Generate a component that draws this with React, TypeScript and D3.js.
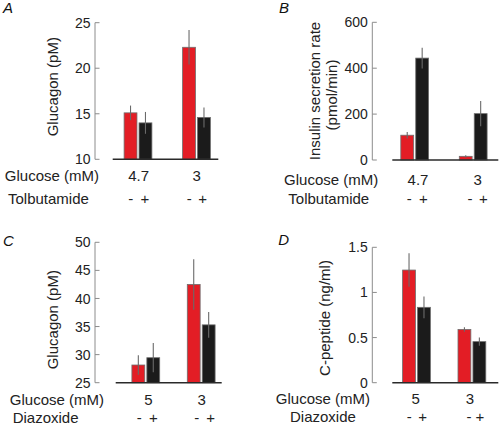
import React from "react";
import * as d3 from "d3";

// ---------- data ----------
const glucoseAB = ["4.7", "3"];
const glucoseCD = ["5", "3"];
const treatSigns = ["-", "+"];

const glucagonA_ctrl = [15.1, 22.3];
const glucagonA_ctrlErr = [0.8, 1.9];
const glucagonA_tolb = [14.0, 14.6];
const glucagonA_tolbErr = [1.2, 1.1];

const insulinB_ctrl = [108, 16];
const insulinB_ctrlErr = [14, 5];
const insulinB_tolb = [444, 202];
const insulinB_tolbErr = [45, 55];

const glucagonC_ctrl = [28.15, 42.5];
const glucagonC_ctrlErr = [1.75, 4.5];
const glucagonC_diaz = [29.45, 35.3];
const glucagonC_diazErr = [2.6, 2.3];

const cpepD_ctrl = [1.248, 0.59];
const cpepD_ctrlErr = [0.185, 0.025];
const cpepD_diaz = [0.835, 0.455];
const cpepD_diazErr = [0.12, 0.045];

const ticksA = [10, 15, 20, 25];
const ticksB = [0, 200, 400, 600];
const ticksC = [25, 30, 35, 40, 45, 50];
const ticksD = [0, 0.5, 1, 1.5];
const tickLabelsD = ["0", "0.5", "1", "1.5"];

// ---------- styles ----------
const FONT = "'Liberation Sans', Arial, Helvetica, sans-serif";
const RED = "#e31d25";
const BLACK = "#1b1b1b";
const OUTLINE = "#6e6e6e";
const AXIS = "#8c8c8c";
const ERR = "#6a6a6a";

type Panel = {
  letter: string;
  letterX: number;
  letterY: number;
  axisX: number;
  yRange: [number, number]; // [bottom px, top px]
  domain: [number, number];
  ticks: number[];
  tickLabels?: string[];
  baseX: [number, number];
  centers: [number, number];
  groups: string[];
  ctrl: number[];
  ctrlErr: number[];
  trt: number[];
  trtErr: number[];
  yLabel: string[];
  yLabelX: number[];
  yLabelY: number[];
  glucoseLabelEnd: number;
  glucoseY: number;
  groupLabelDx: number[];
  treatName: string;
  treatX: number;
  treatY: number;
  signDx: number[][];
};

const panels: Panel[] = [
  {
    letter: "A", letterX: 3, letterY: 13,
    axisX: 95, yRange: [159.3, 22.7], domain: [10, 25], ticks: ticksA,
    baseX: [112.7, 218.3], centers: [138, 196.5], groups: glucoseAB,
    ctrl: glucagonA_ctrl, ctrlErr: glucagonA_ctrlErr, trt: glucagonA_tolb, trtErr: glucagonA_tolbErr,
    yLabel: ["Glucagon (pM)"], yLabelX: [52.3], yLabelY: [86.7],
    glucoseLabelEnd: 99, glucoseY: 181, groupLabelDx: [0.7, 0.2],
    treatName: "Tolbutamide", treatX: 8, treatY: 204,
    signDx: [[-7.3, 7], [-7.2, 6.2]],
  },
  {
    letter: "B", letterX: 279, letterY: 13,
    axisX: 372.3, yRange: [160, 22.3], domain: [0, 600], ticks: ticksB,
    baseX: [392.3, 498.3], centers: [414.7, 473.2], groups: glucoseAB,
    ctrl: insulinB_ctrl, ctrlErr: insulinB_ctrlErr, trt: insulinB_tolb, trtErr: insulinB_tolbErr,
    yLabel: ["Insulin secretion rate", "(pmol/min)"], yLabelX: [315, 331.7], yLabelY: [91, 95],
    glucoseLabelEnd: 378.3, glucoseY: 184.5, groupLabelDx: [3.3, 4.5],
    treatName: "Tolbutamide", treatX: 288.3, treatY: 204,
    signDx: [[-5.4, 8.6], [-3.2, 10.1]],
  },
  {
    letter: "C", letterX: 3, letterY: 246,
    axisX: 95, yRange: [382.7, 242.3], domain: [25, 50], ticks: ticksC,
    baseX: [115.7, 221.7], centers: [145.8, 201.2], groups: glucoseCD,
    ctrl: glucagonC_ctrl, ctrlErr: glucagonC_ctrlErr, trt: glucagonC_diaz, trtErr: glucagonC_diazErr,
    yLabel: ["Glucagon (pM)"], yLabelX: [52.3], yLabelY: [319.7],
    glucoseLabelEnd: 104, glucoseY: 405, groupLabelDx: [2.5, 0.5],
    treatName: "Diazoxide", treatX: 12.7, treatY: 423,
    signDx: [[-6.5, 7.5], [-4.5, 9.5]],
  },
  {
    letter: "D", letterX: 278.3, letterY: 245,
    axisX: 372.3, yRange: [382.7, 247.3], domain: [0, 1.5], ticks: ticksD, tickLabels: tickLabelsD,
    baseX: [392.3, 498.3], centers: [416.5, 471.9], groups: glucoseCD,
    ctrl: cpepD_ctrl, ctrlErr: cpepD_ctrlErr, trt: cpepD_diaz, trtErr: cpepD_diazErr,
    yLabel: ["C-peptide (ng/ml)"], yLabelX: [325], yLabelY: [318],
    glucoseLabelEnd: 370, glucoseY: 404, groupLabelDx: [-0.8, -1.9],
    treatName: "Diazoxide", treatX: 290, treatY: 421.5,
    signDx: [[-7.2, 6.2], [-2.9, 8.1]],
  },
];

function PanelView({ p }: { p: Panel }) {
  const y = d3.scaleLinear().domain(p.domain).range(p.yRange);
  const x = d3.scaleOrdinal<string, number>().domain(p.groups).range(p.centers);
  const sub = d3.scaleBand().domain(["ctrl", "trt"]).range([-13.9, 13.9]).paddingInner(0.14);
  const series = [
    { key: "ctrl", vals: p.ctrl, errs: p.ctrlErr, fill: RED },
    { key: "trt", vals: p.trt, errs: p.trtErr, fill: BLACK },
  ];
  const base = y(p.domain[0]);
  return (
    <g>
      <text x={p.letterX} y={p.letterY} fontSize={15} fontStyle="italic" fontFamily={FONT} fill="#111">
        {p.letter}
      </text>
      {/* y axis */}
      <line x1={p.axisX} x2={p.axisX} y1={y(p.domain[1])} y2={base} stroke={AXIS} strokeWidth={1} />
      {p.ticks.map((t, i) => (
        <g key={i}>
          <line x1={p.axisX} x2={p.axisX + 4.5} y1={y(t)} y2={y(t)} stroke={AXIS} strokeWidth={1} />
          <text x={p.axisX - 4.5} y={y(t)} dy="0.36em" textAnchor="end" fontSize={14} fontFamily={FONT} fill="#222">
            {p.tickLabels ? p.tickLabels[i] : String(t)}
          </text>
        </g>
      ))}
      {p.yLabel.map((s, i) => (
        <text
          key={i}
          transform={`translate(${p.yLabelX[i]},${p.yLabelY[i]}) rotate(-90)`}
          dy="0.35em"
          textAnchor="middle"
          fontSize={15}
          fontFamily={FONT}
          fill="#222"
        >
          {s}
        </text>
      ))}
      {/* bars */}
      {p.groups.map((g, gi) =>
        series.map((s) => {
          const bx = x(g) + (sub(s.key) as number);
          const bw = sub.bandwidth();
          const top = y(s.vals[gi]);
          return (
            <g key={g + s.key}>
              <rect x={bx} y={top} width={bw} height={base - top} fill={s.fill} stroke={OUTLINE} strokeWidth={0.8} />
              <line
                x1={bx + bw / 2}
                x2={bx + bw / 2}
                y1={y(s.vals[gi] + s.errs[gi])}
                y2={Math.min(base, y(s.vals[gi] - s.errs[gi]))}
                stroke={ERR}
                strokeWidth={1.1}
              />
            </g>
          );
        })
      )}
      {/* baseline */}
      <line x1={p.baseX[0]} x2={p.baseX[1]} y1={base} y2={base} stroke="#2a2a2a" strokeWidth={1.6} />
      {/* bottom labels */}
      <text x={p.glucoseLabelEnd} y={p.glucoseY} textAnchor="end" fontSize={15} fontFamily={FONT} fill="#222">
        Glucose (mM)
      </text>
      {p.groups.map((g, gi) => (
        <text key={g} x={x(g) + p.groupLabelDx[gi]} y={p.glucoseY} textAnchor="middle" fontSize={15} fontFamily={FONT} fill="#222">
          {g}
        </text>
      ))}
      <text x={p.treatX} y={p.treatY} fontSize={15} fontFamily={FONT} fill="#222">
        {p.treatName}
      </text>
      {p.groups.map((g, gi) =>
        treatSigns.map((s, si) => (
          <text
            key={g + s}
            x={x(g) + p.signDx[gi][si]}
            y={p.treatY}
            textAnchor="middle"
            fontSize={15}
            fontFamily={FONT}
            fill="#222"
          >
            {s}
          </text>
        ))
      )}
    </g>
  );
}

export default function App() {
  return (
    <svg
      width={500}
      height={426}
      viewBox="0 0 500 426"
      style={{ position: "absolute", left: 0, top: 0, background: "#fff" }}
    >
      <rect width={500} height={426} fill="#fff" />
      {panels.map((p) => (
        <PanelView key={p.letter} p={p} />
      ))}
    </svg>
  );
}
